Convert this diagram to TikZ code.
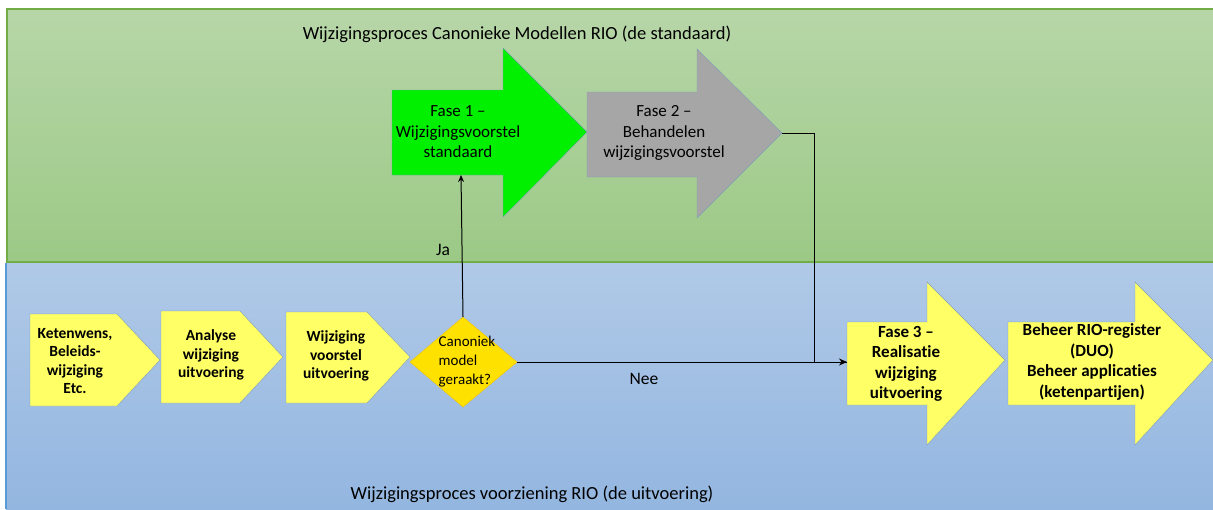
\documentclass[tikz,border=0pt]{standalone}
\usepackage{fontspec}
\setmainfont{Carlito}[Ligatures=NoCommon]
\usetikzlibrary{arrows.meta}
\definecolor{bandgreen}{HTML}{70AD47}
\definecolor{bandblue}{HTML}{5B9BD5}
\definecolor{boxline}{HTML}{7F9DB9}
\definecolor{boxyellow}{HTML}{FFFF66}
\definecolor{fasegreen}{HTML}{00F000}
\definecolor{fasegrey}{HTML}{A6A6A6}
\definecolor{dmdyellow}{HTML}{FFE100}
\definecolor{dmdline}{HTML}{F2C200}
\tikzset{
  boxtext/.style={align=center,font=\fontsize{15.5}{18.3}\selectfont\bfseries,inner sep=0},
  fasetext/.style={align=center,font=\fontsize{17}{20.5}\selectfont,inner sep=0},
  bigtext/.style={align=center,font=\fontsize{17}{20.5}\selectfont\bfseries,inner sep=0},
  titletext/.style={font=\fontsize{18.5}{20}\selectfont,inner sep=0},
  labeltext/.style={font=\fontsize{17.5}{20}\selectfont,inner sep=0},
  conn/.style={draw=black,line width=1pt},
}
\begin{document}
\begin{tikzpicture}[x=1pt,y=-1pt]
\useasboundingbox (0,0) rectangle (1213,509);
\fill[white] (0,0) rectangle (1213,509);
% bands
\shade[top color={rgb,255:red,183;green,214;blue,168},bottom color={rgb,255:red,156;green,201;blue,134}] (7,9) rectangle (1213,262);
\draw[bandgreen,line width=1.2pt] (1213,9) -- (7,9) -- (7,262) -- (1213,262);
\shade[top color={rgb,255:red,176;green,201;blue,231},bottom color={rgb,255:red,147;green,182;blue,224}] (6,263) rectangle (1213,509);
\draw[bandblue,line width=1.2pt] (6,263) -- (6,509);
\node[titletext] (titletop) at (517,34) {Wijzigingsproces Canonieke Modellen RIO (de standaard)};
\node[titletext] (titlebot) at (532,494) {Wijzigingsproces voorziening RIO (de uitvoering)};
% lower pentagons
\filldraw[fill=boxyellow,draw=boxline] (30,314) -- (117,314) -- (160,360) -- (117,406) -- (30,406) -- cycle;
\node[boxtext] (wens) at (75,361) {Ketenwens,\\Beleids-\\wijziging\\Etc.};
\filldraw[fill=boxyellow,draw=boxline] (161,311) -- (240,311) -- (283,357) -- (240,403) -- (161,403) -- cycle;
\node[boxtext] (analyse) at (211,355) {Analyse\\wijziging\\uitvoering};
\filldraw[fill=boxyellow,draw=boxline] (286,312) -- (367,312) -- (410,357) -- (367,403) -- (286,403) -- cycle;
\node[boxtext] (voorstel) at (336,356) {Wijziging\\voorstel\\uitvoering};
% decision
\filldraw[fill=dmdyellow,draw=dmdline] (410,362) -- (463,317) -- (517,362) -- (463,407) -- cycle;
\node[align=left,font=\fontsize{15}{19}\selectfont,inner sep=0] (keuze) at (467,362) {Canoniek\\model\\geraakt?};
\coordinate (keuzetop) at (463,317);
\coordinate (keuzeright) at (517,362);
% fase 1 and 2
\filldraw[fill=fasegreen,draw=boxline] (392,90) -- (503,90) -- (503,48) -- (587,132) -- (503,217) -- (503,175) -- (392,175) -- cycle;
\node[fasetext] (fase1) at (458,132) {Fase 1 --\\Wijzigingsvoorstel\\standaard};
\coordinate (fase1bottom) at (461,175);
\filldraw[fill=fasegrey,draw=boxline] (587,92) -- (697,92) -- (697,49) -- (782,133) -- (697,218) -- (697,177) -- (587,177) -- cycle;
\node[fasetext] (fase2) at (664,133) {Fase 2 --\\Behandelen\\wijzigingsvoorstel};
\coordinate (fase2tip) at (782,133);
% fase 3 and beheer
\filldraw[fill=boxyellow,draw=boxline] (847,322) -- (927,322) -- (927,282) -- (1005,360) -- (927,445) -- (927,405) -- (847,405) -- cycle;
\node[bigtext] (fase3) at (906,364) {Fase 3 --\\Realisatie\\wijziging\\uitvoering};
\coordinate (fase3left) at (847,362);
\filldraw[fill=boxyellow,draw=boxline] (1008,322) -- (1135,322) -- (1135,282) -- (1213,360) -- (1135,445) -- (1135,405) -- (1008,405) -- cycle;
\node[bigtext] (beheer) at (1092,362) {Beheer RIO-register\\(DUO)\\Beheer applicaties\\(ketenpartijen)};
% connectors
\draw[conn,-{Stealth[length=7pt,width=6pt]}] (keuzetop) -- (fase1bottom);
\node[labeltext] (ja) at (443,250) {Ja};
\coordinate (hoek) at (814,133);
\draw[conn] (fase2tip) -- (hoek) |- (fase3left);
\draw[conn,-{Stealth[length=8pt,width=7pt]}] (keuzeright) -- (fase3left);
\node[labeltext] (nee) at (644,379) {Nee};
\end{tikzpicture}
\end{document}
